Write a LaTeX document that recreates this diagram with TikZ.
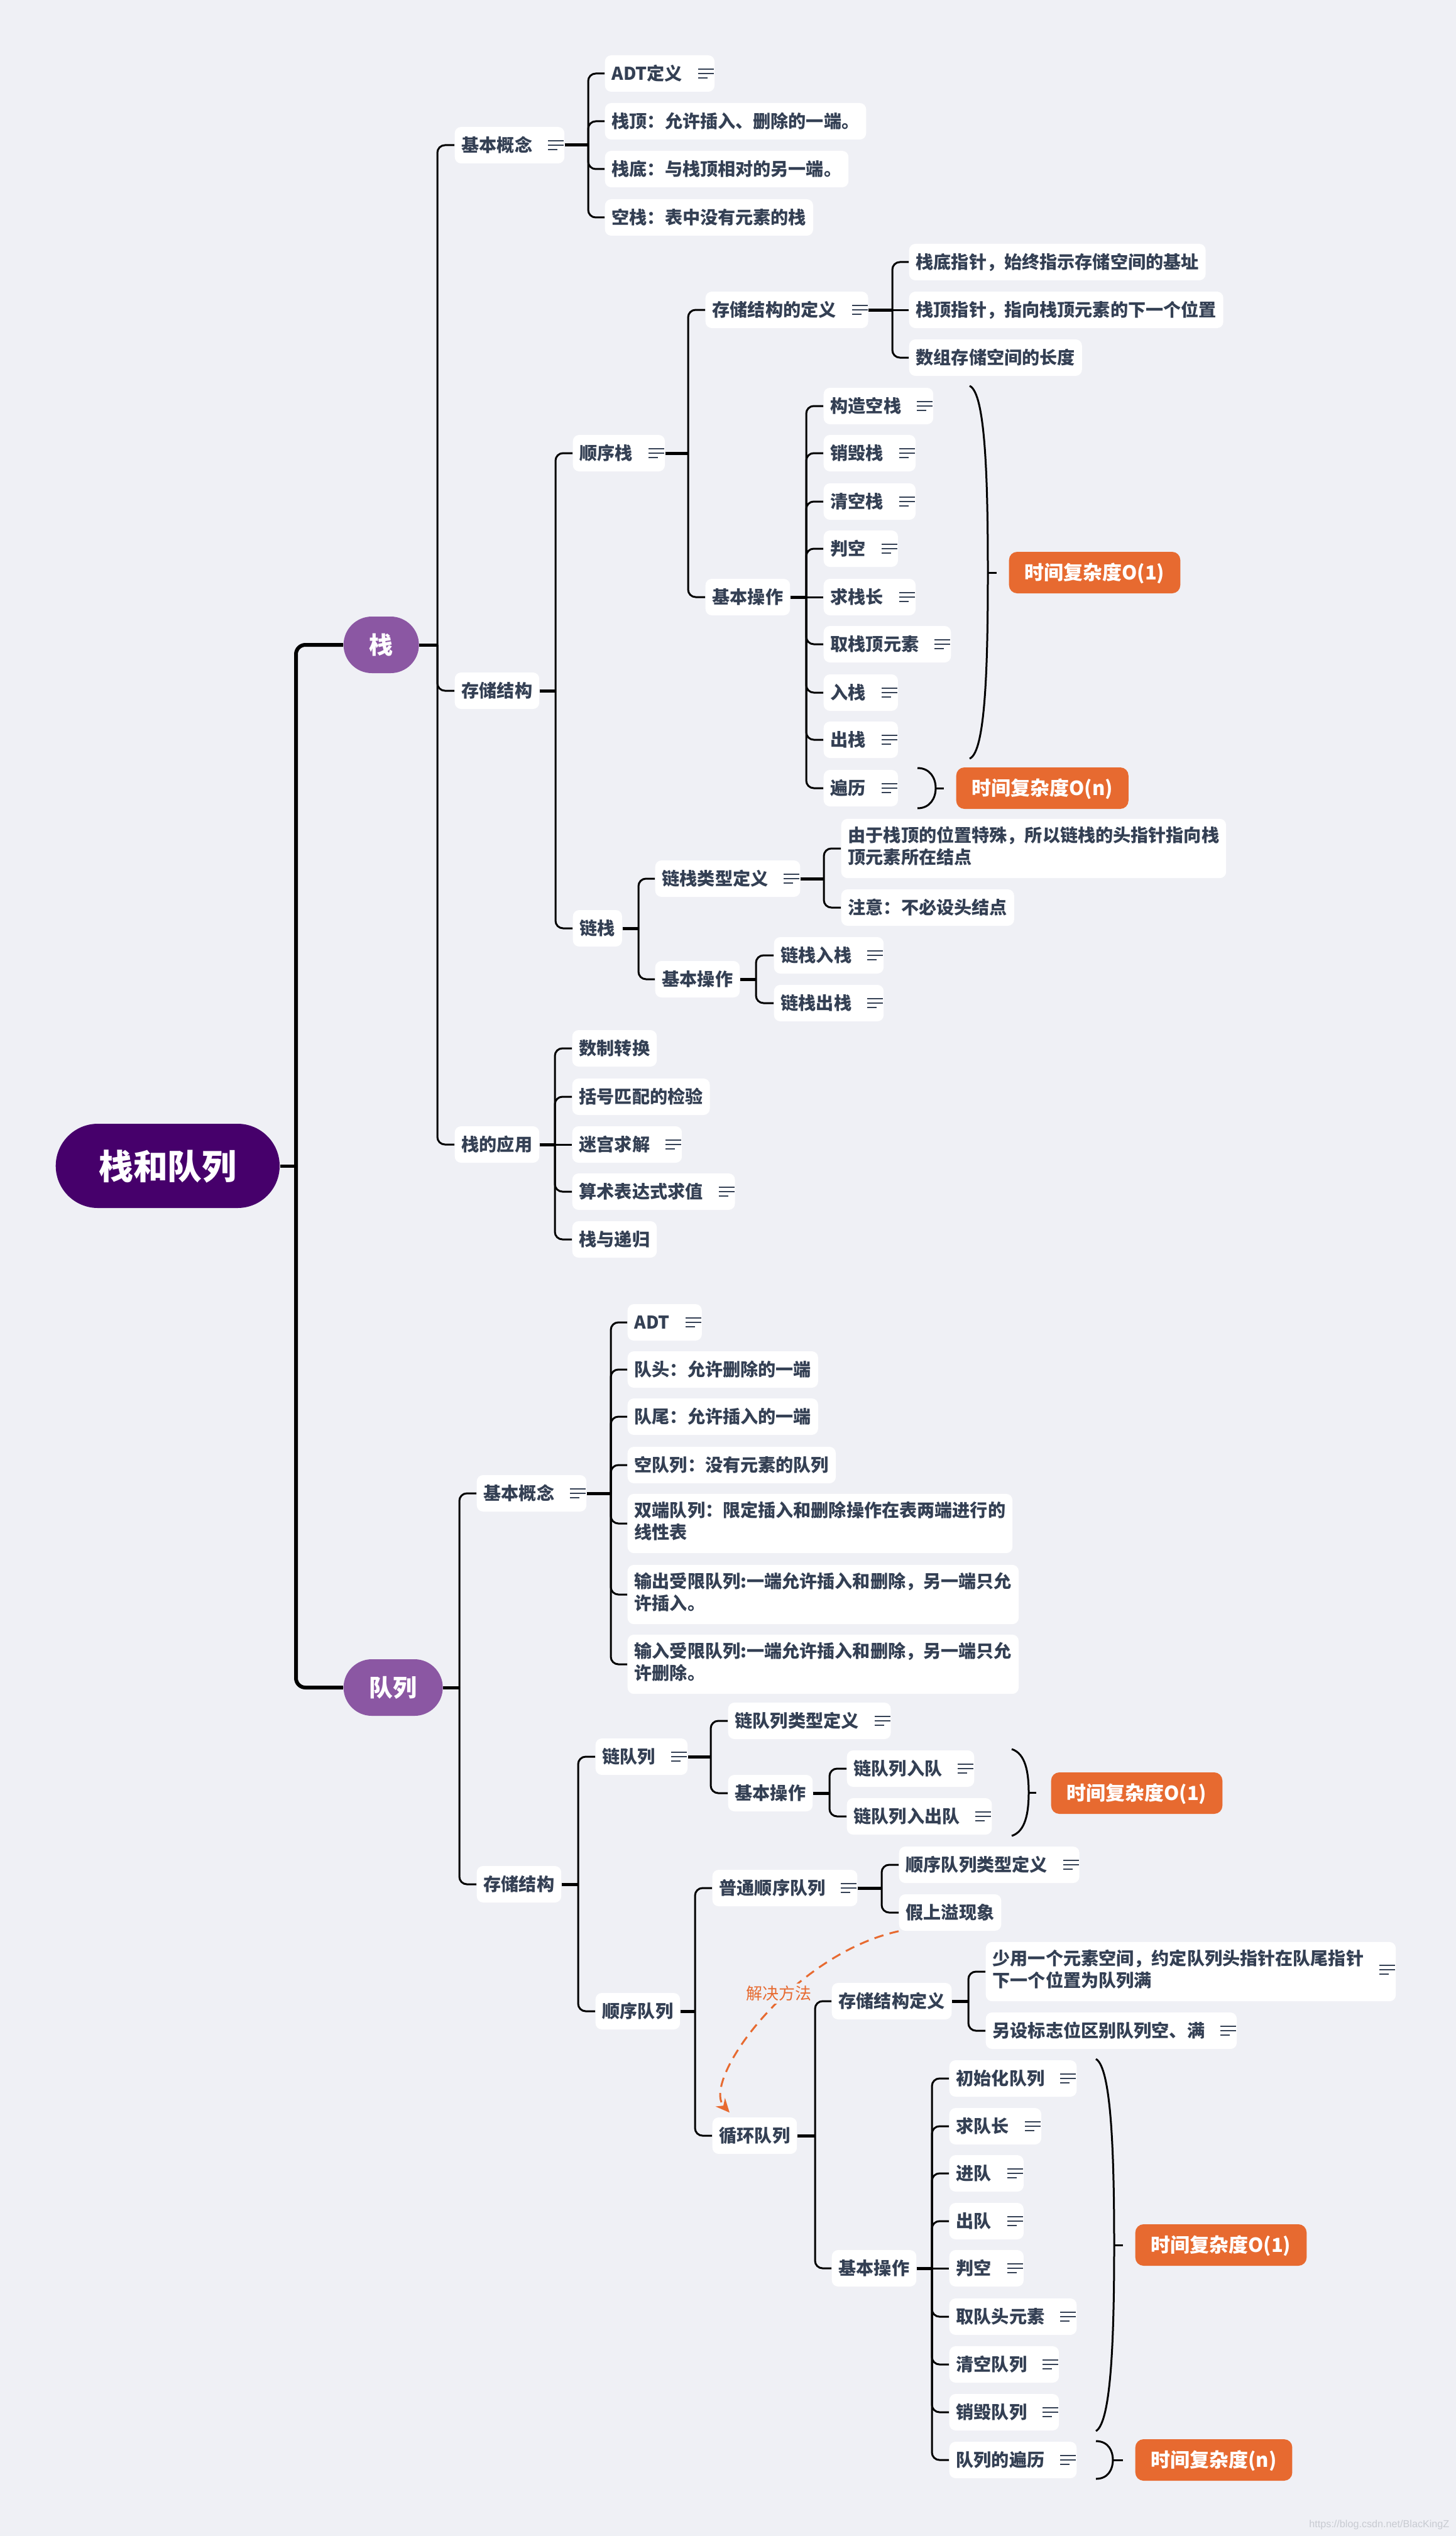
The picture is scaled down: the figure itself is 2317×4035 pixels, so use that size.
\documentclass[tikz,border=0pt]{standalone}
\usepackage{fontspec}
\setmainfont{Noto Sans CJK SC}
\newfontfamily\urlfont{Liberation Sans}
\usetikzlibrary{arrows.meta}
\definecolor{PaperGrey}{RGB}{239,240,245}
\definecolor{Ink}{RGB}{52,64,84}
\definecolor{DeepPurple}{RGB}{70,0,107}
\definecolor{Lilac}{RGB}{139,87,163}
\definecolor{Hot}{RGB}{231,106,48}
\definecolor{Mark}{RGB}{200,203,210}
\newcommand{\memo}{\hspace{2.5mm}\rlap{\rule[1.65mm]{2.5mm}{0.2mm}}\rlap{\rule[0.95mm]{2.5mm}{0.2mm}}\rule[0.25mm]{1.5mm}{0.2mm}\hspace{1.3mm}}
\newcommand{\twolines}[2]{\begin{tabular}{@{}l@{}}#1\\#2\end{tabular}}

\begin{document}
\begin{tikzpicture}[x=0.1mm, y=-0.1mm,
	mapcenter/.style={anchor=west, fill=DeepPurple, text=white, rounded corners=6.7mm, minimum height=13.4mm, inner xsep=6.85mm, text height=4.8mm, text depth=0.6mm, font=\fontsize{15.6pt}{18pt}\selectfont\bfseries},
	branchbox/.style={anchor=west, fill=Lilac, text=white, rounded corners=4.5mm, minimum height=9mm, inner xsep=4.1mm, text height=3.3mm, text depth=0.45mm, font=\fontsize{10.8pt}{13pt}\selectfont\bfseries},
	topic/.style={anchor=west, fill=white, text=Ink, rounded corners=1mm, inner xsep=1.1mm, inner ysep=1.5mm, text height=2.45mm, text depth=0.35mm, font=\fontsize{8pt}{10pt}\selectfont\bfseries},
	multi/.style={topic, text height={}, text depth={}, inner ysep=1.2mm},
	timetag/.style={anchor=west, fill=Hot, text=white, rounded corners=1.3mm, minimum height=6.6mm, inner xsep=2.5mm, text height=2.7mm, text depth=0.35mm, font=\fontsize{8.8pt}{10pt}\selectfont\bfseries},
	trunkline/.style={line width=0.6mm, rounded corners=1.5mm},
	stubline/.style={line width=0.5mm},
	linkline/.style={line width=0.3mm, rounded corners=1.2mm},
	braceline/.style={line width=0.3mm},
	fixarrow/.style={Hot, line width=0.3mm, dash pattern=on 1.5mm off 1mm, -{Stealth[length=2.2mm,width=2mm]}}
]
	\fill[PaperGrey] (0,0) rectangle (2317,4035);

	% centre
	\node[mapcenter] (map) at (88,1855) {栈和队列};
	\node[branchbox] (sk) at (546,1026) {栈};
	\node[branchbox] (qu) at (546,2685) {队列};
	\draw[stubline] (map) -- (471,1855) coordinate (mapb);
	\draw[trunkline] (mapb) |- (sk.west);
	\draw[trunkline] (mapb) |- (qu.west);

	% stack
	\node[topic] (skc) at (723,231) {基本概念\memo};
	\node[topic] (sks) at (723,1099) {存储结构};
	\node[topic] (ska) at (723,1821) {栈的应用};
	\draw[stubline] (sk) -- (696,1026) coordinate (skb);
	\foreach \n in {skc,sks,ska} \draw[linkline] (skb) |- (\n.west);

	\node[topic] (skc1) at (962,117) {ADT定义\memo};
	\node[topic] (skc2) at (962,193) {栈顶：允许插入、删除的一端。};
	\node[topic] (skc3) at (962,269) {栈底：与栈顶相对的另一端。};
	\node[topic] (skc4) at (962,346) {空栈：表中没有元素的栈};
	\draw[stubline] (skc) -- (936,231) coordinate (skcb);
	\foreach \n in {skc1,skc2,skc3,skc4} \draw[linkline] (skcb) |- (\n.west);

	\node[topic] (sksq) at (911,721) {顺序栈\memo};
	\node[topic] (sksl) at (911,1477) {链栈};
	\draw[stubline] (sks) -- (884,1099) coordinate (sksb);
	\foreach \n in {sksq,sksl} \draw[linkline] (sksb) |- (\n.west);

	\node[topic] (sksqd) at (1122,493) {存储结构的定义\memo};
	\node[topic] (sksqo) at (1122,950) {基本操作};
	\draw[stubline] (sksq) -- (1095,721) coordinate (sksqb);
	\foreach \n in {sksqd,sksqo} \draw[linkline] (sksqb) |- (\n.west);

	\node[topic] (sksqd1) at (1446,417) {栈底指针，始终指示存储空间的基址};
	\node[topic] (sksqd2) at (1446,493) {栈顶指针，指向栈顶元素的下一个位置};
	\node[topic] (sksqd3) at (1446,569) {数组存储空间的长度};
	\draw[stubline] (sksqd) -- (1420,493) coordinate (sksqdb);
	\foreach \n in {sksqd1,sksqd3} \draw[linkline] (sksqdb) |- (\n.west);
	\draw[linkline] (sksqdb) -- (sksqd2);

	\foreach \txt/\yy [count=\i] in {构造空栈/646, 销毁栈/721, 清空栈/798, 判空/873, 求栈长/950, 取栈顶元素/1025, 入栈/1102, 出栈/1177, 遍历/1254}
		\node[topic] (sko\i) at (1310,\yy) {\txt\memo};
	\draw[stubline] (sksqo) -- (1283,950) coordinate (sksqob);
	\foreach \i in {1,2,3,4,6,7,8,9} \draw[linkline] (sksqob) |- (sko\i.west);
	\draw[linkline] (sksqob) -- (sko5);

	\draw[braceline] (1543,614) .. controls (1568,625) and (1572,760) .. (1572,911) .. controls (1572,1062) and (1568,1197) .. (1543,1207);
	\draw[braceline] (1572,911) -- (1586,911);
	\node[timetag] (skt1) at (1605,911) {时间复杂度O(1)};
	\draw[braceline] (1460,1222) .. controls (1480,1222) and (1489,1238) .. (1489,1254) .. controls (1489,1270) and (1480,1286) .. (1460,1286);
	\draw[braceline] (1489,1254) -- (1502,1254);
	\node[timetag] (skt2) at (1521,1254) {时间复杂度O(n)};

	\node[topic] (sksld) at (1042,1398) {链栈类型定义\memo};
	\node[topic] (skslo) at (1042,1558) {基本操作};
	\draw[stubline] (sksl) -- (1016,1477) coordinate (skslb);
	\foreach \n in {sksld,skslo} \draw[linkline] (skslb) |- (\n.west);

	\node[multi] (sksld1) at (1338,1350) {\twolines{由于栈顶的位置特殊，所以链栈的头指针指向栈}{顶元素所在结点}};
	\node[topic] (sksld2) at (1338,1444) {注意：不必设头结点};
	\draw[stubline] (sksld) -- (1311,1398) coordinate (sksldb);
	\foreach \n in {sksld1,sksld2} \draw[linkline] (sksldb) |- (\n.west);

	\node[topic] (skslo1) at (1231,1520) {链栈入栈\memo};
	\node[topic] (skslo2) at (1231,1596) {链栈出栈\memo};
	\draw[stubline] (skslo) -- (1203,1558) coordinate (skslob);
	\foreach \n in {skslo1,skslo2} \draw[linkline] (skslob) |- (\n.west);

	\foreach \txt/\yy [count=\i] in {数制转换/1668, 括号匹配的检验/1745, 迷宫求解\memo/1821, 算术表达式求值\memo/1896, 栈与递归/1972}
		\node[topic] (ska\i) at (910,\yy) {\txt};
	\draw[stubline] (ska) -- (883,1821) coordinate (skab);
	\foreach \i in {1,2,4,5} \draw[linkline] (skab) |- (ska\i.west);
	\draw[linkline] (skab) -- (ska3);

	% queue
	\node[topic] (quc) at (758,2376) {基本概念\memo};
	\node[topic] (qus) at (758,2998) {存储结构};
	\draw[stubline] (qu) -- (731,2685) coordinate (qub);
	\foreach \n in {quc,qus} \draw[linkline] (qub) |- (\n.west);

	\node[topic] (quc1) at (998,2104) {ADT\memo};
	\node[topic] (quc2) at (998,2179) {队头：允许删除的一端};
	\node[topic] (quc3) at (998,2254) {队尾：允许插入的一端};
	\node[topic] (quc4) at (998,2331) {空队列：没有元素的队列};
	\node[multi] (quc5) at (998,2424) {\twolines{双端队列：限定插入和删除操作在表两端进行的}{线性表}};
	\node[multi] (quc6) at (998,2537) {\twolines{输出受限队列:一端允许插入和删除，另一端只允}{许插入。}};
	\node[multi] (quc7) at (998,2648) {\twolines{输入受限队列:一端允许插入和删除，另一端只允}{许删除。}};
	\draw[stubline] (quc) -- (972,2376) coordinate (qucb);
	\foreach \n in {quc1,quc2,quc3,quc4,quc5,quc6,quc7} \draw[linkline] (qucb) |- (\n.west);

	\node[topic] (qusl) at (947,2795) {链队列\memo};
	\node[topic] (qusq) at (947,3200) {顺序队列};
	\draw[stubline] (qus) -- (920,2998) coordinate (qusb);
	\foreach \n in {qusl,qusq} \draw[linkline] (qusb) |- (\n.west);

	\node[topic] (qusld) at (1158,2738) {链队列类型定义\memo};
	\node[topic] (quslo) at (1158,2853) {基本操作};
	\draw[stubline] (qusl) -- (1131,2795) coordinate (quslb);
	\foreach \n in {qusld,quslo} \draw[linkline] (quslb) |- (\n.west);

	\node[topic] (quslo1) at (1347,2814) {链队列入队\memo};
	\node[topic] (quslo2) at (1347,2890) {链队列入出队\memo};
	\draw[stubline] (quslo) -- (1320,2853) coordinate (quslob);
	\foreach \n in {quslo1,quslo2} \draw[linkline] (quslob) |- (\n.west);

	\draw[braceline] (1610,2783) .. controls (1632,2790) and (1637,2820) .. (1637,2852) .. controls (1637,2884) and (1632,2914) .. (1610,2921);
	\draw[braceline] (1637,2852) -- (1649,2852);
	\node[timetag] (qut1) at (1672,2853) {时间复杂度O(1)};

	\node[topic] (qusqp) at (1133,3004) {普通顺序队列\memo};
	\node[topic] (qusqc) at (1133,3398) {循环队列};
	\draw[stubline] (qusq) -- (1106,3200) coordinate (qusqb);
	\foreach \n in {qusqp,qusqc} \draw[linkline] (qusqb) |- (\n.west);

	\node[topic] (qusqp1) at (1430,2967) {顺序队列类型定义\memo};
	\node[topic] (qusqp2) at (1430,3043) {假上溢现象};
	\draw[stubline] (qusqp) -- (1403,3004) coordinate (qusqpb);
	\foreach \n in {qusqp1,qusqp2} \draw[linkline] (qusqpb) |- (\n.west);

	\node[topic] (qusqcd) at (1323,3184) {存储结构定义};
	\node[topic] (qusqco) at (1323,3609) {基本操作};
	\draw[stubline] (qusqc) -- (1297,3398) coordinate (qusqcb);
	\foreach \n in {qusqcd,qusqco} \draw[linkline] (qusqcb) |- (\n.west);

	\node[multi] (qusqcd1) at (1568,3137) {\twolines{少用一个元素空间，约定队列头指针在队尾指针}{下一个位置为队列满}\memo};
	\node[topic] (qusqcd2) at (1568,3231) {另设标志位区别队列空、满\memo};
	\draw[stubline] (qusqcd) -- (1541,3184) coordinate (qusqcdb);
	\foreach \n in {qusqcd1,qusqcd2} \draw[linkline] (qusqcdb) |- (\n.west);

	\foreach \txt/\yy [count=\i] in {初始化队列/3307, 求队长/3383, 进队/3458, 出队/3534, 判空/3609, 取队头元素/3686, 清空队列/3762, 销毁队列/3838, 队列的遍历/3914}
		\node[topic] (quo\i) at (1510,\yy) {\txt\memo};
	\draw[stubline] (qusqco) -- (1483,3609) coordinate (qusqcob);
	\foreach \i in {1,2,3,4,6,7,8,9} \draw[linkline] (qusqcob) |- (quo\i.west);
	\draw[linkline] (qusqcob) -- (quo5);

	\draw[braceline] (1744,3276) .. controls (1768,3290) and (1773,3420) .. (1773,3572) .. controls (1773,3724) and (1768,3854) .. (1744,3868);
	\draw[braceline] (1773,3572) -- (1787,3572);
	\node[timetag] (qut2) at (1806,3572) {时间复杂度O(1)};
	\draw[braceline] (1744,3884) .. controls (1764,3884) and (1771,3900) .. (1771,3914) .. controls (1771,3928) and (1764,3944) .. (1744,3944);
	\draw[braceline] (1771,3914) -- (1787,3914);
	\node[timetag] (qut3) at (1806,3914) {时间复杂度(n)};

	% false overflow -> circular queue
	\draw[fixarrow] (qusqp2.south west) .. controls (1260,3110) and (1115,3310) .. ([xshift=2.8mm,yshift=0.7mm]qusqc.north west);
	\node[fill=PaperGrey, text=Hot, inner sep=0.4mm, font=\fontsize{7.4pt}{9pt}\selectfont] (fix) at (1239,3172) {解决方法};

	\node[anchor=east, text=Mark, inner sep=0pt, font=\urlfont\fontsize{4.6pt}{5pt}\selectfont] (url) at (2307,4017) {https://blog.csdn.net/BlacKingZ};
\end{tikzpicture}
\end{document}
